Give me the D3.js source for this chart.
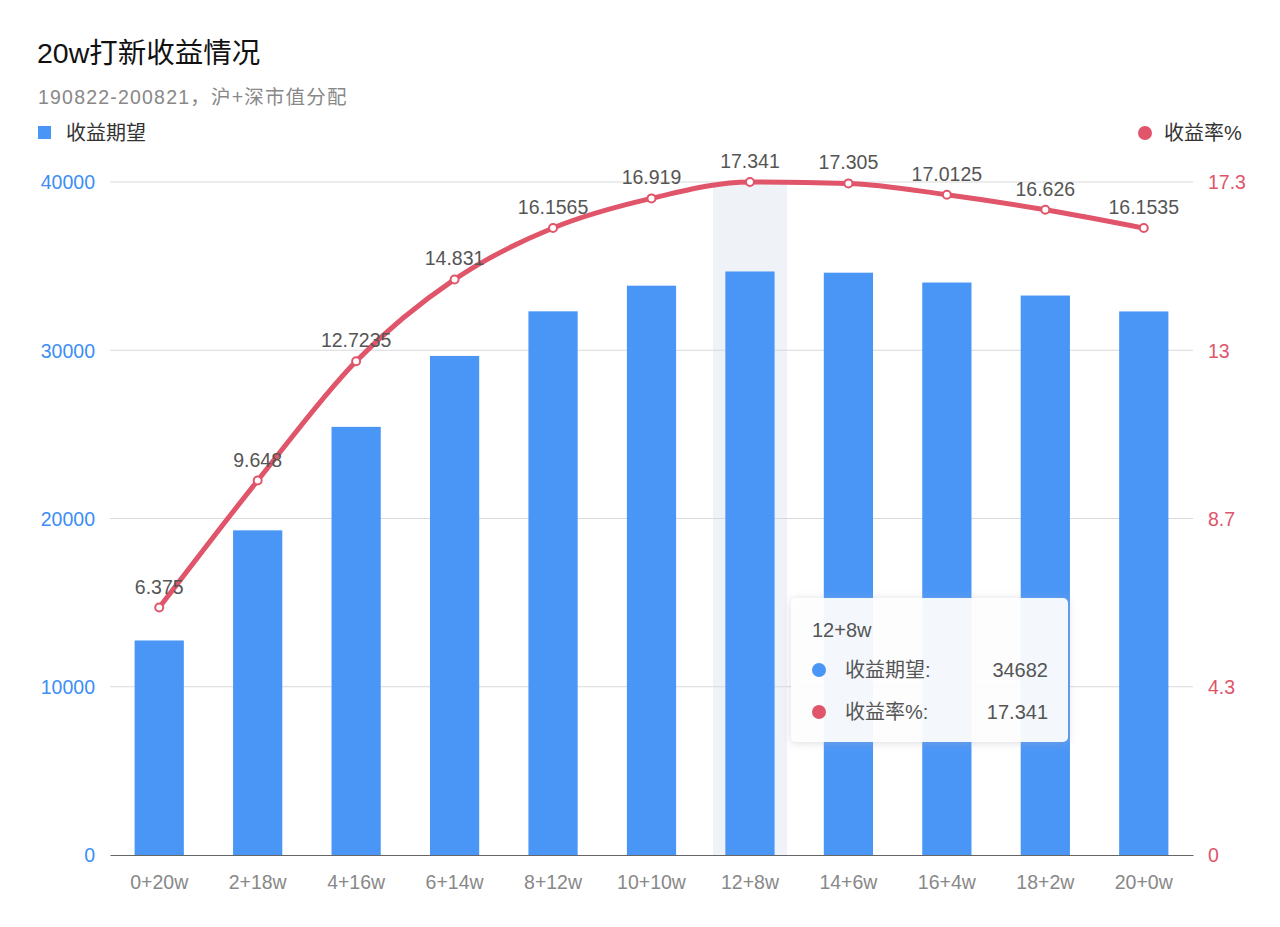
<!DOCTYPE html>
<meta charset="utf-8">
<script src="https://d3js.org/d3.v7.min.js"></script>
<style>
body { margin: 0; background: #fff; font-family: "Liberation Sans", "Noto Sans CJK SC", sans-serif; }
</style>
<div id="my_dataviz"></div>
<script>

// data
var categories = ["0+20w", "2+18w", "4+16w", "6+14w", "8+12w", "10+10w", "12+8w", "14+6w", "16+4w", "18+2w", "20+0w"];
var expected = [12750, 19296, 25447, 29662, 32313, 33838, 34682, 34610, 34025, 33252, 32307];
var rates = [6.375, 9.648, 12.7235, 14.831, 16.1565, 16.919, 17.341, 17.305, 17.0125, 16.626, 16.1535];
var leftTicks = [0, 10000, 20000, 30000, 40000];
var rightTicks = [0, 4.3, 8.7, 13, 17.3];
var highlightIndex = 6;

var blue = "#4a96f7", red = "#e05569";
var fs = "19.5px";

var W = 1280, H = 927;
var margin = {top: 182, right: 87, bottom: 72, left: 110},
    width = W - margin.left - margin.right,
    height = H - margin.top - margin.bottom;

var root = d3.select("#my_dataviz").append("svg")
    .attr("width", W).attr("height", H);

// title + subtitle
root.append("text").attr("x", 37).attr("y", 63)
  .style("font-size", "28.5px").style("fill", "#111")
  .text("20w打新收益情况");
root.append("text").attr("x", 38).attr("y", 104)
  .style("font-size", "19.5px").style("fill", "#888").style("letter-spacing", "1.2px")
  .text("190822-200821，沪+深市值分配");

// legends
root.append("rect").attr("x", 38).attr("y", 126).attr("width", 13).attr("height", 13).attr("fill", blue);
root.append("text").attr("x", 66).attr("y", 140).style("font-size", "20px").style("fill", "#333").text("收益期望");
root.append("circle").attr("cx", 1145).attr("cy", 133).attr("r", 7).attr("fill", red);
root.append("text").attr("x", 1164).attr("y", 140).style("font-size", "20px").style("fill", "#333").text("收益率%");

var svg = root.append("g").attr("transform", "translate(" + margin.left + "," + margin.top + ")");

var x = d3.scaleBand().domain(categories).range([0, width]);
var y = d3.scaleLinear().domain([0, 40000]).range([height, 0]);
var y2 = d3.scaleLinear().domain([0, d3.max(rates)]).range([height, 0]);

// highlight band
var hw = x.bandwidth() * 0.75;
svg.append("rect")
  .attr("x", x(categories[highlightIndex]) + (x.bandwidth() - hw) / 2)
  .attr("y", 0).attr("width", hw).attr("height", height)
  .attr("fill", "#eff2f7");

// grid + left axis
svg.selectAll(".grid").data(leftTicks.slice(1)).enter().append("line")
  .attr("x1", 0).attr("x2", width)
  .attr("y1", function(d) { return y(d); }).attr("y2", function(d) { return y(d); })
  .attr("stroke", "#d9d9d9");

var yAxis = svg.append("g").call(d3.axisLeft(y).tickValues(leftTicks).tickSize(0).tickPadding(15).tickFormat(d3.format("d")));
yAxis.select(".domain").remove();
yAxis.selectAll("text").style("font-size", fs).style("fill", "#3d8ef5").attr("dy", "0.35em");

var y2Axis = svg.append("g").attr("transform", "translate(" + width + ",0)")
  .call(d3.axisRight(y2).tickValues(d3.range(5).map(function(i) { return d3.max(rates) * i / 4; }))
    .tickSize(0).tickPadding(15).tickFormat(function(d, i) { return rightTicks[i]; }));
y2Axis.select(".domain").remove();
y2Axis.selectAll("text").style("font-size", fs).style("fill", red).attr("dy", "0.35em");

// bars
var bw = x.bandwidth() * 0.5;
svg.append("g").selectAll("rect").data(expected).enter().append("rect")
  .attr("x", function(d, i) { return x(categories[i]) + (x.bandwidth() - bw) / 2; })
  .attr("y", function(d) { return y(d); })
  .attr("width", bw)
  .attr("height", function(d) { return height - y(d); })
  .attr("fill", blue);

// baseline + x axis
var xAxis = svg.append("g").attr("transform", "translate(0," + height + ")")
  .call(d3.axisBottom(x).tickSize(0).tickPadding(20));
xAxis.select(".domain").attr("stroke", "#666");
xAxis.selectAll("text").style("font-size", fs).style("fill", "#888");

// line
var line = d3.line()
  .x(function(d, i) { return x(categories[i]) + x.bandwidth() / 2; })
  .y(function(d) { return y2(d); })
  .curve(d3.curveMonotoneX);
svg.append("path").datum(rates)
  .attr("d", line).attr("fill", "none").attr("stroke", red).attr("stroke-width", 5);

svg.append("g").selectAll("circle").data(rates).enter().append("circle")
  .attr("cx", function(d, i) { return x(categories[i]) + x.bandwidth() / 2; })
  .attr("cy", function(d) { return y2(d); })
  .attr("r", 4).attr("fill", "#fff").attr("stroke", red).attr("stroke-width", 2);

svg.append("g").selectAll("text").data(rates).enter().append("text")
  .attr("x", function(d, i) { return x(categories[i]) + x.bandwidth() / 2; })
  .attr("y", function(d) { return y2(d) - 14; })
  .attr("text-anchor", "middle")
  .style("font-size", fs).style("fill", "#555")
  .text(function(d) { return d; });

// tooltip
var defs = root.append("defs");
var f = defs.append("filter").attr("id", "shadow").attr("x", "-20%").attr("y", "-20%").attr("width", "140%").attr("height", "140%");
f.append("feDropShadow").attr("dx", 0).attr("dy", 1).attr("stdDeviation", 4).attr("flood-color", "#aab").attr("flood-opacity", 0.45);

var tip = root.append("g").attr("transform", "translate(791,598)");
tip.append("rect").attr("width", 277).attr("height", 144).attr("rx", 5)
  .attr("fill", "rgba(255,255,255,0.92)").attr("filter", "url(#shadow)");
tip.append("text").attr("x", 21).attr("y", 39).style("font-size", "20px").style("fill", "#555")
  .text(categories[highlightIndex]);
var rows = [
  {name: "收益期望:", color: blue, value: expected[highlightIndex]},
  {name: "收益率%:", color: red, value: rates[highlightIndex]}
];
rows.forEach(function(r, i) {
  var cy = 72 + i * 42;
  tip.append("circle").attr("cx", 28).attr("cy", cy).attr("r", 7).attr("fill", r.color);
  tip.append("text").attr("x", 54).attr("y", cy + 7).style("font-size", "20px").style("fill", "#555").text(r.name);
  tip.append("text").attr("x", 257).attr("y", cy + 7).attr("text-anchor", "end").style("font-size", "20px").style("fill", "#555").text(r.value);
});
</script>
